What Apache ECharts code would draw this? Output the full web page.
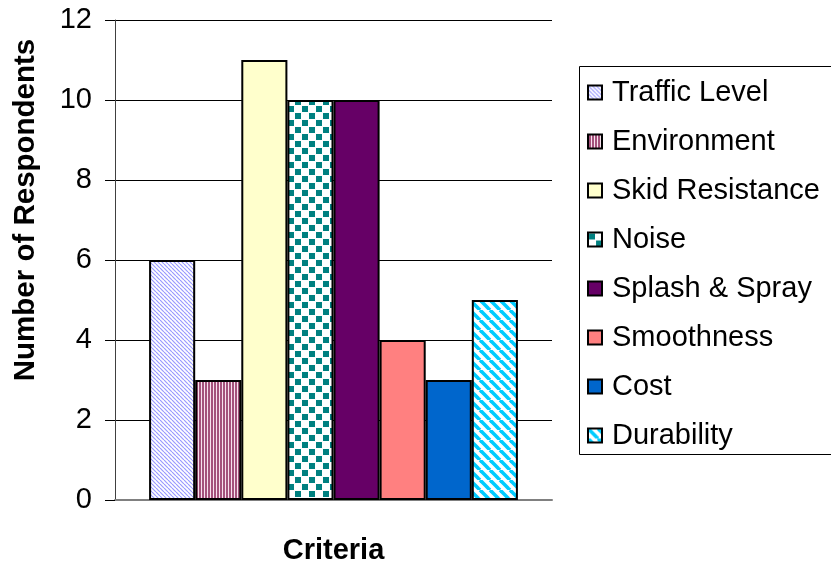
<!DOCTYPE html>
<html>
<head>
<meta charset="utf-8">
<script src="https://cdn.jsdelivr.net/npm/echarts@6/dist/echarts.min.js"></script>
<style>
html,body{margin:0;padding:0;background:#fff;}
#chart{width:831px;height:565px;}
</style>
</head>
<body>
<div id="chart"></div>
<script>
// ---- data ----
var categories = [''];
var seriesNames = ['Traffic Level', 'Environment', 'Skid Resistance', 'Noise', 'Splash & Spray', 'Smoothness', 'Cost', 'Durability'];
var seriesValues = [6, 3, 11, 10, 10, 4, 3, 5];
var yTicks = [0, 2, 4, 6, 8, 10, 12];
var xTitle = 'Criteria';
var yTitle = 'Number of Respondents';

// ---- fill patterns ----
function tile(w, h, draw) {
  var c = document.createElement('canvas');
  c.width = w; c.height = h;
  var g = c.getContext('2d');
  g.fillStyle = '#fff'; g.fillRect(0, 0, w, h);
  draw(g, w, h);
  return { image: c, repeat: 'repeat' };
}
function diag(color, size, lw) {
  return tile(size, size, function (g, w, h) {
    g.strokeStyle = color; g.lineWidth = lw;
    for (var k = -w; k <= w; k += w) {
      g.beginPath(); g.moveTo(k, 0); g.lineTo(k + w, h); g.stroke();
    }
  });
}
var fills = [
  diag('#9999ff', 4, 1.2),
  tile(3, 2, function (g) { g.fillStyle = '#f7e2ee'; g.fillRect(0, 0, 3, 2); g.fillStyle = '#a4527c'; g.fillRect(1, 0, 2, 2); }),
  '#ffffcc',
  tile(14, 14, function (g) { g.fillStyle = '#008080'; g.fillRect(1, 1, 6, 6); g.fillRect(8, 8, 6, 6); }),
  '#660066',
  '#ff8080',
  '#0066cc',
  diag('#00ccff', 10, 3.6)
];

var series = seriesNames.map(function (name, i) {
  return {
    name: name,
    type: 'bar',
    barGap: '0%',
    barCategoryGap: '15.6%',
    data: [seriesValues[i]],
    itemStyle: { color: fills[i], borderColor: '#000', borderWidth: 2 }
  };
});

var font = '"Liberation Sans", Arial, sans-serif';
var chart = echarts.init(document.getElementById('chart'), null, { renderer: 'canvas' });
chart.setOption({
  animation: false,
  backgroundColor: '#fff',
  grid: { left: 115, right: 279, top: 20, bottom: 65, containLabel: false, outerBoundsMode: 'none' },
  xAxis: {
    type: 'category',
    data: categories,
    name: xTitle,
    nameLocation: 'middle',
    nameGap: 36,
    nameTextStyle: { fontFamily: font, fontSize: 29, fontWeight: 'bold', color: '#000' },
    axisLine: { lineStyle: { color: '#808080', width: 2 } },
    axisTick: { show: false },
    axisLabel: { show: false }
  },
  yAxis: {
    type: 'value',
    min: yTicks[0],
    max: yTicks[yTicks.length - 1],
    interval: yTicks[1] - yTicks[0],
    axisLine: { show: true, lineStyle: { color: '#404040', width: 1 } },
    axisTick: { show: true, inside: false, length: 10, lineStyle: { color: '#000' } },
    axisLabel: { margin: 23, fontFamily: font, fontSize: 29, color: '#000' },
    splitLine: { show: true, lineStyle: { color: '#000', width: 1 } }
  },
  legend: {
    orient: 'vertical',
    left: 582,
    top: 73,
    itemGap: 20,
    itemWidth: 14,
    itemHeight: 14,
    icon: 'rect',
    textStyle: { fontFamily: font, fontSize: 29, color: '#000', padding: [0, 0, 0, 5] },
    data: seriesNames
  },
  graphic: [
    { type: 'rect', left: 577, top: 64, shape: { width: 270, height: 388 }, style: { fill: null, stroke: '#000', lineWidth: 1 }, z: -1 },
    { type: 'text', x: 26, y: 210, rotation: Math.PI / 2,
      style: { text: yTitle, fontFamily: font, fontSize: 29.5, fontWeight: 'bold', fill: '#000', textAlign: 'center', textVerticalAlign: 'middle' } }
  ],
  series: series
});
</script>
</body>
</html>
